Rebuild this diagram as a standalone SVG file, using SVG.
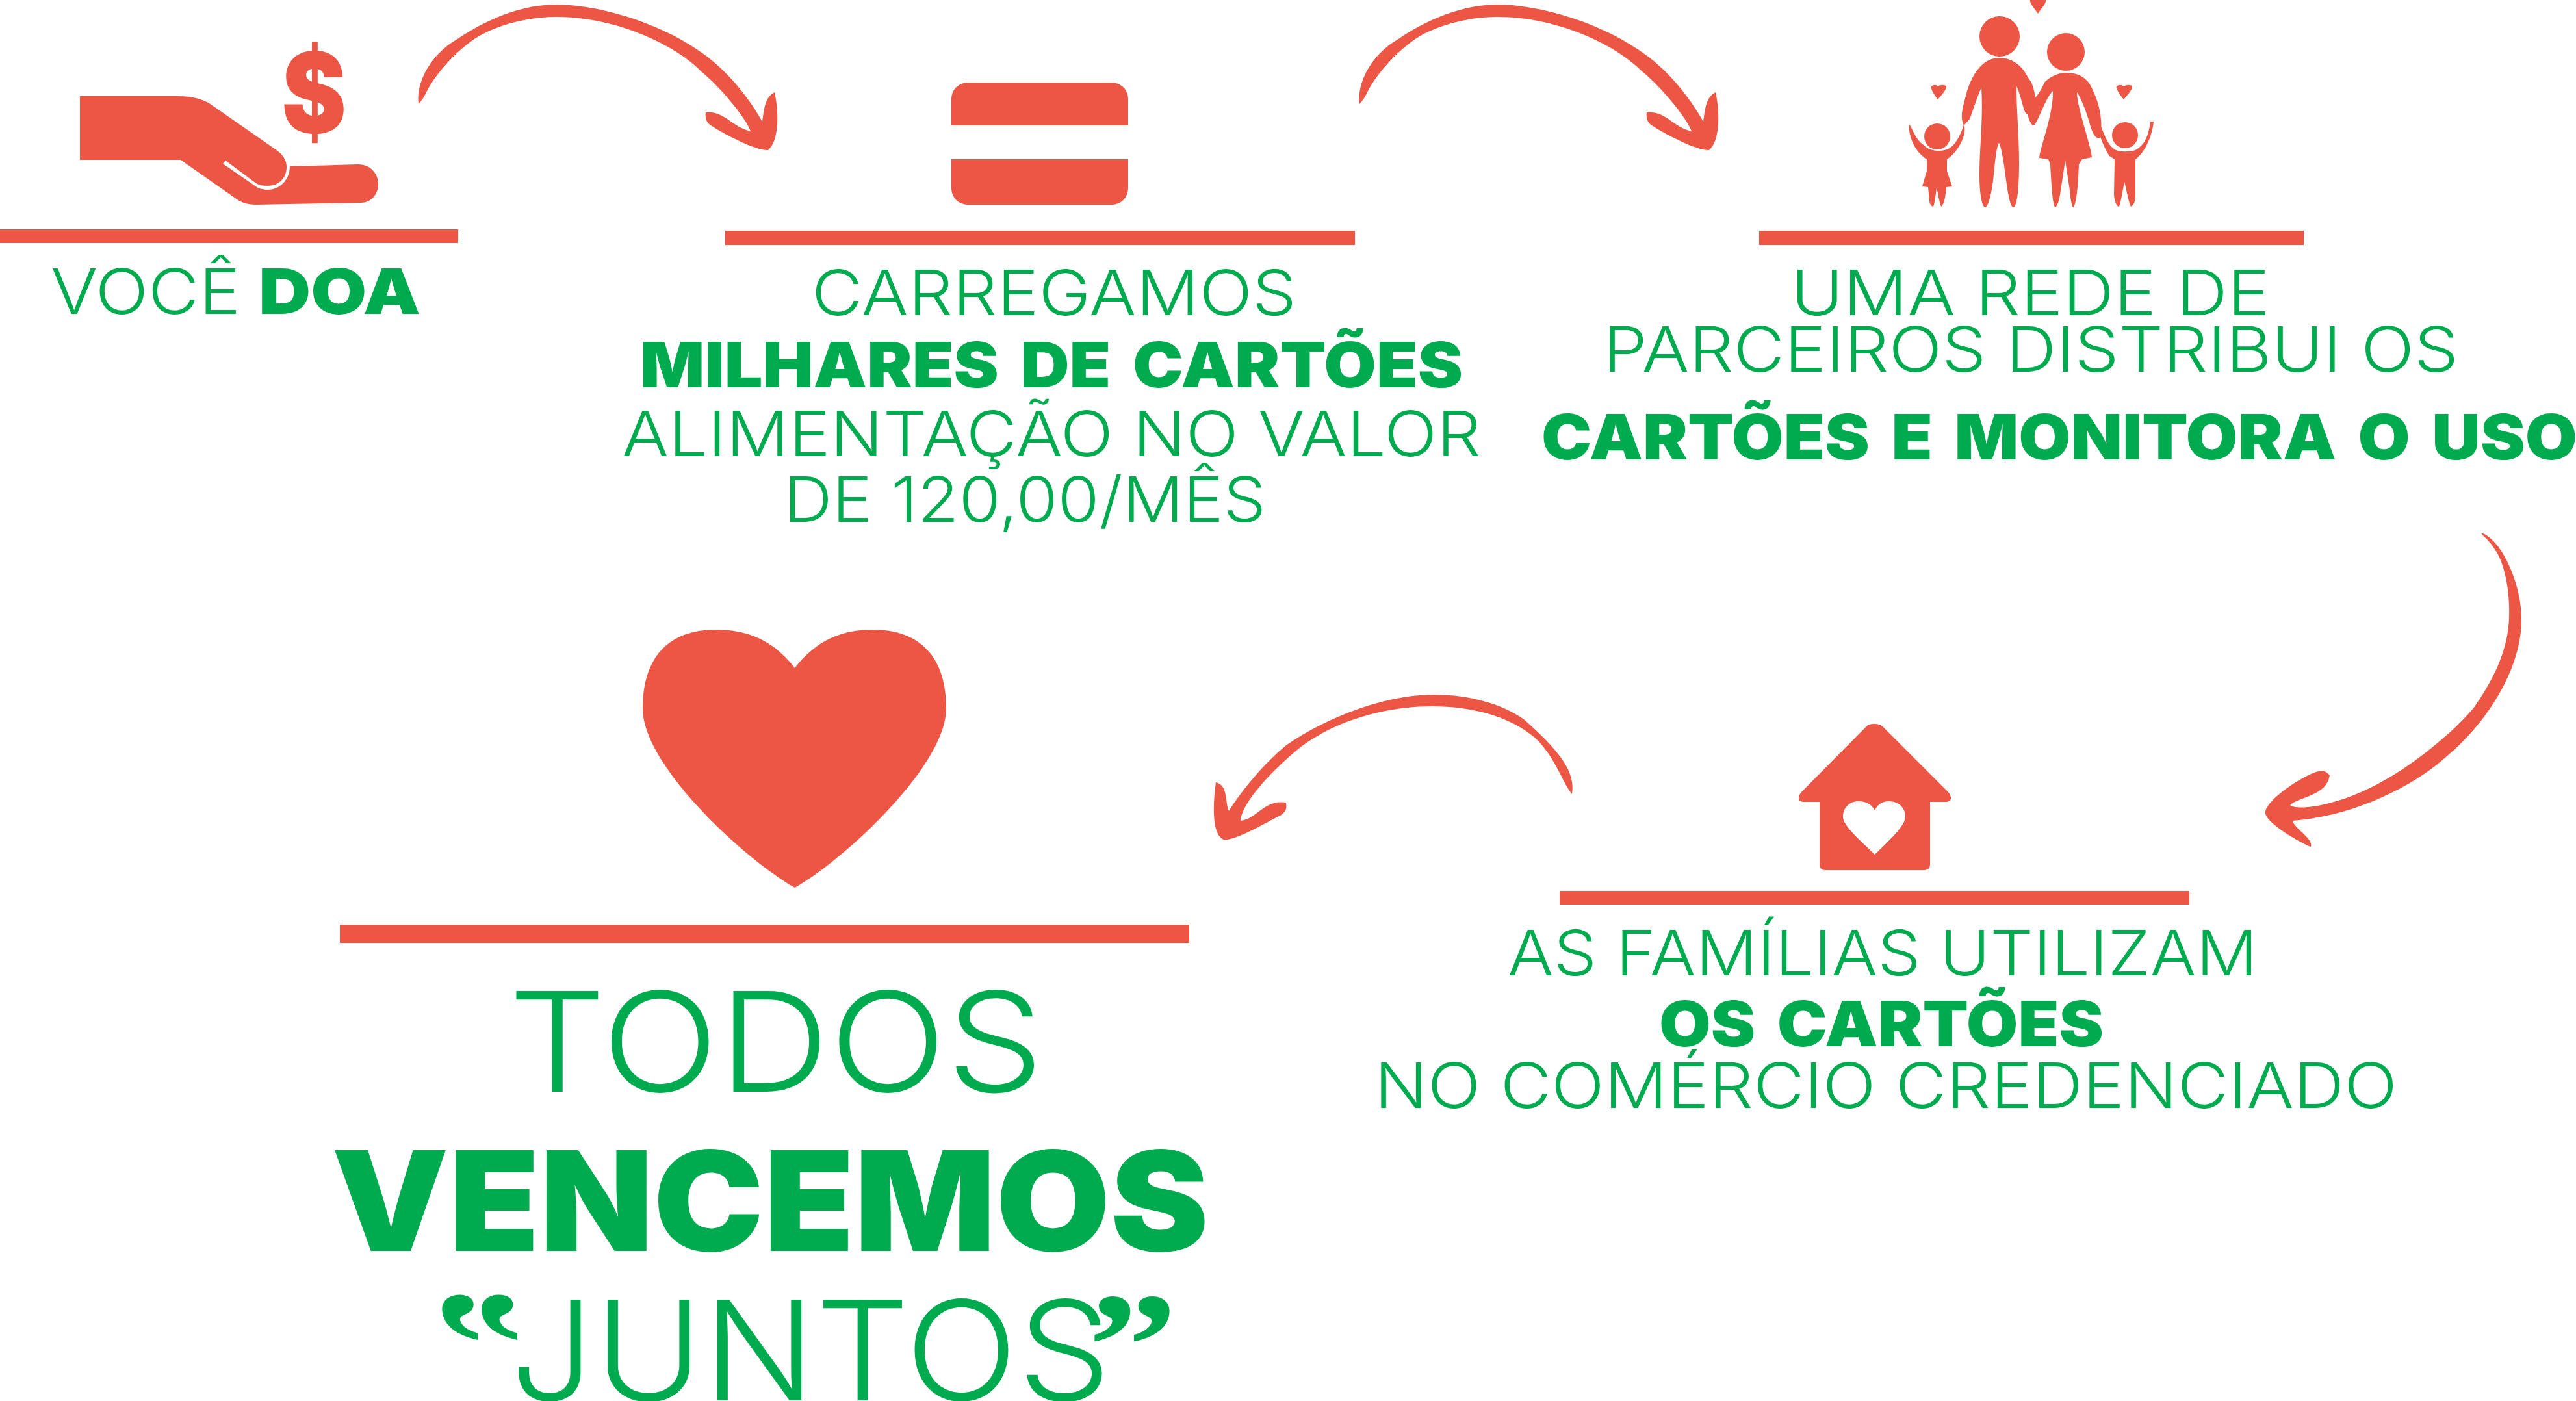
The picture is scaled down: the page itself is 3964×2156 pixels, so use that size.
<svg xmlns="http://www.w3.org/2000/svg" xmlns:xlink="http://www.w3.org/1999/xlink" width="3964" height="2156" viewBox="0 0 3964 2156">
<style>
.r{fill:#EC5745}
text{fill:#00AB4F;font-family:"Inter","Lato","Liberation Sans",sans-serif;font-size:96px}
.l{font-weight:300}
.b{font-weight:900;word-spacing:12px}
.xl{font-size:213px}
.q{font-family:"Liberation Serif",serif;font-weight:700;font-size:230px}
</style>
<defs>
<path id="arc" d="M644,160C640,130 660,85 704,60C730,42 790,7 856,7C920,7 1020,35 1088,87C1125,115 1155,155 1173,187C1176,170 1176,150 1192,142C1198,170 1200,215 1182,231C1165,232 1120,210 1094,193C1086,188 1085,180 1086,173C1115,170 1125,195 1155,202C1150,185 1110,135 1079,110C1040,70 950,26 856,26C810,26 760,40 730,60C700,80 670,115 657,140C652,150 649,155 644,160Z"/>
</defs>
<rect width="3964" height="2156" fill="#fff"/>
<g id="connectors" class="r">
<use xlink:href="#arc" href="#arc"/>
<use xlink:href="#arc" href="#arc" transform="translate(1448,0)"/>
<path d="M3818,820C3850,830 3880,900 3880,950C3882,1020 3835,1105 3765,1164C3720,1205 3630,1255 3528,1263C3530,1275 3560,1290 3556,1303C3535,1295 3486,1265 3486,1251C3486,1230 3550,1190 3568,1187C3575,1185 3580,1188 3585,1193C3580,1225 3540,1225 3524,1239C3540,1250 3610,1235 3665,1203C3700,1185 3765,1138 3806,1090C3836,1048 3860,1000 3861,950C3863,900 3850,860 3840,847C3830,830 3820,825 3818,820Z"/>
<path d="M2419,1222C2424,1190 2405,1160 2345,1107C2305,1080 2255,1069 2206,1069C2130,1069 2040,1105 1979,1147C1945,1175 1912,1215 1891,1248C1885,1235 1890,1208 1871,1204C1866,1240 1865,1285 1883,1292C1900,1295 1955,1262 1970,1255C1982,1248 1979,1240 1979,1235C1945,1230 1935,1260 1909,1263C1912,1230 1970,1175 2001,1150C2060,1105 2140,1087 2204,1087C2270,1087 2330,1105 2367,1140C2395,1170 2405,1205 2419,1222Z"/>
</g>
<g id="node-doa">
<path class="r" d="M123,148H274C295,148 312,152 325,161L427,232C437,240 441,248 441,257C441,275 428,286 412,286C405,286 399,285 394,282L347,247L343,252L391,285C397,290 404,292 412,292C432,292 446,275 446,256L551,253C570,253 582,267 582,283C582,300 570,312 556,312L394,315C382,315 372,312 365,307L278,246H123Z"/>
<text transform="translate(483,205) scale(.87,1)" text-anchor="middle" style="font-weight:900;font-size:172px;fill:#EC5745">$</text>
<rect class="r" x="0" y="353" width="705" height="21"/>
<text class="l" x="78" y="483" textLength="292" lengthAdjust="spacingAndGlyphs">VOCÊ</text>
<text class="b" x="398" y="483" textLength="249" lengthAdjust="spacingAndGlyphs">DOA</text>
</g>
<g id="node-carregamos">
<path class="r" d="M1464,193V152A25,25 0 0 1 1489,127H1711A25,25 0 0 1 1736,152V193Z"/>
<path class="r" d="M1464,245V290A25,25 0 0 0 1489,315H1711A25,25 0 0 0 1736,290V245Z"/>
<rect class="r" x="1116" y="355" width="969" height="22"/>
<text class="l" x="1249" y="485" textLength="746" lengthAdjust="spacingAndGlyphs">CARREGAMOS</text>
<text class="b" x="985" y="596" textLength="1266" lengthAdjust="spacingAndGlyphs">MILHARES DE CARTÕES</text>
<text class="l" x="957" y="702" textLength="1322" lengthAdjust="spacingAndGlyphs">ALIMENTAÇÃO NO VALOR</text>
<text class="l" x="1206" y="803" textLength="742" lengthAdjust="spacingAndGlyphs">DE 120,00/MÊS</text>
</g>
<g id="node-rede" class="r">
<circle cx="3077" cy="56" r="31"/>
<circle cx="3179" cy="80" r="29"/>
<ellipse cx="2981" cy="210" rx="20" ry="20"/>
<ellipse cx="3270" cy="208" rx="20" ry="20"/>
<path d="M3077,89C3050,89 3035,115 3027,140C3019,170 3016,180 3022,193L3031,183C3038,165 3042,150 3049,135C3052,180 3046,230 3046,267C3046,300 3050,319 3055,319C3060,319 3066,290 3067,277C3070,250 3072,225 3076,220C3080,225 3084,255 3087,277C3090,300 3094,319 3098,319C3104,319 3107,290 3107,250C3107,210 3103,170 3103,133C3110,145 3115,180 3120,175C3122,185 3126,193 3129,193C3132,190 3136,165 3132,150C3130,135 3126,125 3121,120C3112,100 3095,89 3077,89Z"/>
<path d="M3179,112C3165,112 3152,120 3146,127C3138,145 3132,150 3132,150C3128,170 3126,190 3130,193C3135,190 3148,150 3159,140C3160,175 3140,225 3138,243L3152,245L3155,253C3157,290 3159,319 3163,319C3168,315 3170,300 3171,293L3178,247L3185,293C3186,305 3188,319 3191,319C3196,310 3198,280 3199,253L3204,245L3219,242C3218,225 3196,165 3196,142C3202,150 3212,175 3217,195C3222,210 3226,213 3232,213C3237,180 3228,155 3221,140C3215,125 3205,112 3179,112Z"/>
<path d="M3226,193C3230,205 3237,227 3246,240L3254,245L3253,300C3254,310 3257,318 3261,318C3264,310 3267,290 3269,280C3272,290 3275,310 3279,318C3284,315 3286,310 3286,300V245C3300,235 3312,210 3314,187H3309C3307,205 3302,222 3286,231C3275,234 3262,234 3254,230C3242,222 3238,205 3232,193Z"/>
<path d="M2938,191C2936,205 2944,232 2965,245L2965,263L2958,287L2967,288L2969,310C2970,315 2973,318 2975,318C2978,310 2979,295 2980,290C2982,295 2984,310 2987,318C2992,315 2994,300 2995,288L3004,287L2996,263V245C3013,235 3028,205 3022,192C3018,205 3010,222 3000,228C2990,234 2970,234 2960,223C2948,215 2944,200 2938,191Z"/>
<path d="M3136,21C3130,12 3123,5 3124,0H3148C3149,5 3142,12 3136,21Z"/>
<path d="M2982,153C2976,146 2970,135 2972,133C2975,130 2980,130 2982,133C2986,130 2993,130 2995,133C2996,137 2988,146 2982,153Z"/>
<path d="M3268,153C3262,146 3255,135 3257,133C3260,130 3265,130 3268,133C3272,130 3279,130 3281,133C3282,137 3274,146 3268,153Z"/>
<rect x="2707" y="355" width="838" height="22"/>
<text class="l" x="2756" y="485" textLength="737" lengthAdjust="spacingAndGlyphs">UMA REDE DE</text>
<text class="l" x="2467" y="572" textLength="1316" lengthAdjust="spacingAndGlyphs">PARCEIROS DISTRIBUI OS</text>
<text class="b" x="2372" y="707" textLength="1594" lengthAdjust="spacingAndGlyphs">CARTÕES E MONITORA O USO</text>
</g>
<g id="node-familias">
<path class="r" fill-rule="evenodd" d="M2885,1114C2878,1114 2875,1115 2872,1118L2772,1219C2766,1226 2766,1234 2776,1234H2800V1330C2800,1336 2803,1339 2809,1339H2960C2967,1339 2970,1336 2970,1330V1234H2994C3004,1234 3004,1226 2998,1219L2897,1118C2893,1115 2890,1114 2885,1114ZM2885,1247C2880,1238 2872,1233 2860,1233C2846,1233 2836,1243 2836,1257C2836,1272 2870,1300 2885,1315C2900,1300 2932,1272 2932,1257C2932,1243 2922,1233 2906,1233C2897,1233 2889,1238 2885,1247Z"/>
<rect class="r" x="2400" y="1371" width="969" height="21"/>
<text class="l" x="2320" y="1501" textLength="1154" lengthAdjust="spacingAndGlyphs">AS FAMÍLIAS UTILIZAM</text>
<text class="b" x="2553" y="1610" textLength="684" lengthAdjust="spacingAndGlyphs">OS CARTÕES</text>
<text class="l" x="2115" y="1705" textLength="1574" lengthAdjust="spacingAndGlyphs">NO COMÉRCIO CREDENCIADO</text>
</g>
<g id="node-todos">
<path class="r" d="M1223,1028C1190,985 1150,969 1102,969C1030,969 989,1010 989,1090C989,1180 1150,1325 1223,1366C1296,1325 1456,1180 1456,1090C1456,1010 1415,969 1343,969C1296,969 1256,985 1223,1028Z"/>
<rect class="r" x="523" y="1423" width="1307" height="28"/>
<text class="l xl" x="782" y="1680" textLength="824" lengthAdjust="spacingAndGlyphs">TODOS</text>
<text class="b xl" x="510" y="1925" textLength="1350" lengthAdjust="spacingAndGlyphs">VENCEMOS</text>
<text class="l xl" x="785" y="2155" textLength="925" lengthAdjust="spacingAndGlyphs">JUNTOS</text>
<text class="q" transform="translate(667,1909) scale(1.2,-1)">“</text>
<text class="q" transform="translate(1674,2148) scale(1.2,1)">”</text>
</g>
</svg>
